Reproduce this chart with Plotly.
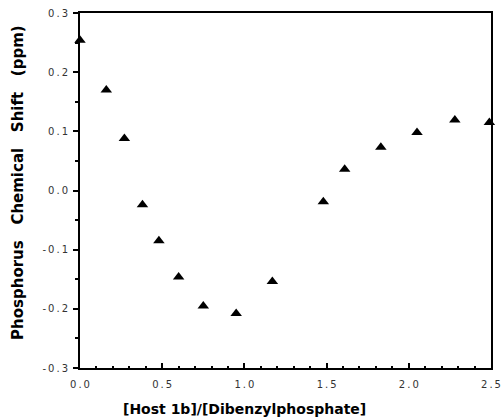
import plotly.graph_objects as go

# ratio of host to dibenzylphosphate and the measured shift
host_ratio = [0.0, 0.16, 0.27, 0.38, 0.48, 0.60, 0.75, 0.95, 1.17,
              1.48, 1.61, 1.83, 2.05, 2.28, 2.49]
shift_ppm = [0.254, 0.170, 0.088, -0.024, -0.085, -0.146, -0.195, -0.208, -0.154,
             -0.019, 0.036, 0.073, 0.098, 0.119, 0.115]

x_ticks = [0.0, 0.5, 1.0, 1.5, 2.0, 2.5]
y_ticks = [-0.3, -0.2, -0.1, 0.0, 0.1, 0.2, 0.3]


def spaced(v):
    # the scanned figure has widely tracked tick labels
    return "\u2009".join(f"{v:.1f}")


fig = go.Figure()
fig.add_trace(go.Scatter(
    x=host_ratio, y=shift_ppm, mode="markers",
    marker=dict(symbol="triangle-up", size=10, color="black"),
    cliponaxis=False, showlegend=False,
))

axis_font = dict(family="DejaVu Sans, Arial, sans-serif", size=10, color="#333")
title_font = dict(family="DejaVu Sans, Arial, sans-serif", size=14, color="black")

fig.update_layout(
    width=502, height=417,
    margin=dict(l=80, r=11, t=13, b=49),
    paper_bgcolor="white", plot_bgcolor="white",
    font=dict(family="DejaVu Sans, Arial, sans-serif", color="black"),
)
fig.update_xaxes(
    automargin=False,
    range=[0, 2.5], tickvals=x_ticks, ticktext=[spaced(v) for v in x_ticks],
    showline=True, linecolor="black", linewidth=2, mirror=True,
    ticks="inside", ticklen=5, tickwidth=2, tickcolor="black",
    minor=dict(dtick=0.1, ticks="inside", ticklen=2, tickwidth=1.5, tickcolor="black"),
    showgrid=False, zeroline=False, tickfont=axis_font, ticklabelstandoff=6,
)
fig.update_yaxes(
    automargin=False,
    range=[-0.3, 0.3], tickvals=y_ticks, ticktext=[spaced(v) for v in y_ticks],
    showline=True, linecolor="black", linewidth=2, mirror=True,
    ticks="outside", ticklen=5, tickwidth=2, tickcolor="black",
    minor=dict(dtick=0.05, ticks="outside", ticklen=3, tickwidth=1.5, tickcolor="black"),
    showgrid=False, zeroline=False, tickfont=axis_font, ticklabelstandoff=3,
)

# axis titles sit off-centre in the original, so place them as annotations
gap = "\u00a0" * 3
fig.add_annotation(
    text="<b>[Host 1b]/[Dibenzylphosphate]</b>", font=title_font,
    xref="paper", yref="paper", x=0.40, y=-0.115,
    xanchor="center", yanchor="middle", showarrow=False,
)
fig.add_annotation(
    text=f"<b>Phosphorus{gap}Chemical{gap}Shift{gap}(ppm)</b>",
    font=dict(family="DejaVu Sans, Arial, sans-serif", size=15, color="black"),
    textangle=-90, xref="paper", yref="paper", x=-0.151, y=0.524,
    xanchor="center", yanchor="middle", showarrow=False,
)

# drop the browser's default body margin so the figure sits at the page corner
fig.write_html("out.html", config={"displayModeBar": False},
               post_script="document.body.style.margin='0';")
